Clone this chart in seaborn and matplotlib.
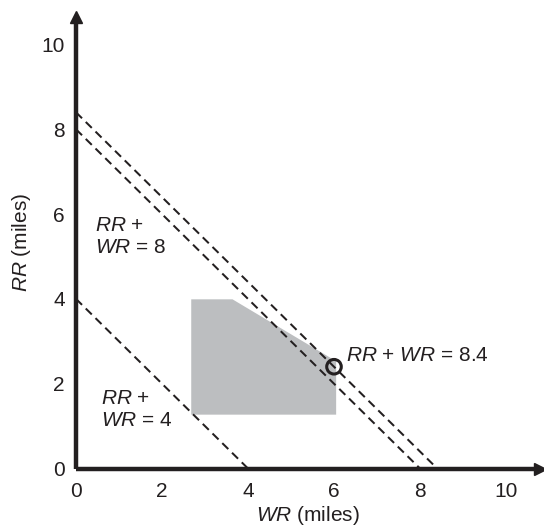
import numpy as np
import pandas as pd
import matplotlib
matplotlib.use("Agg")
import matplotlib.pyplot as plt
import seaborn as sns

sns.set_theme(style="white")
plt.rcParams["font.family"] = ["Liberation Sans", "DejaVu Sans"]
plt.rcParams["mathtext.fontset"] = "custom"
plt.rcParams["mathtext.rm"] = "Liberation Sans"
plt.rcParams["mathtext.it"] = "Liberation Sans:italic"

INK = "#231f20"

# Budget lines RR + WR = total
totals = [4, 8, 8.4]

# Feasible region (WR, RR)
region_wr = [2.68, 2.68, 3.64, 6.05, 6.05]
region_rr = [1.27, 3.99, 3.99, 2.53, 1.27]

# Optimum point
opt_wr = [6.0]
opt_rr = [2.4]

ticks = [0, 2, 4, 6, 8, 10]

W, H = 544, 527
x0, y0 = 76, 468.5          # axes origin in pixels
xmax, ymax = 10.8, 10.65
sx, sy = 43.0, 42.4         # pixels per unit

fig = plt.figure(figsize=(W / 100, H / 100), dpi=100)
ax = fig.add_axes([x0 / W, (H - y0) / H, xmax * sx / W, ymax * sy / H])

ax.fill(region_wr, region_rr, color="#bcbec0", lw=0, zorder=1)

for t in totals:
    df = pd.DataFrame({"WR": [0, t], "RR": [t, 0]})
    sns.lineplot(data=df, x="WR", y="RR", ax=ax, color=INK, lw=1.45,
                 linestyle=(0, (4.2, 2.6)), zorder=2)

sns.scatterplot(x=opt_wr, y=opt_rr, ax=ax, s=110, facecolor="none",
                edgecolor=INK, linewidth=2.2, zorder=4)

ax.set_xlim(0, xmax)
ax.set_ylim(0, ymax)
ax.set_xticks(ticks)
ax.set_yticks(ticks)
ax.set_xticklabels([str(t) for t in ticks])
ax.set_yticklabels([str(t) for t in ticks])
ax.tick_params(axis="both", length=0, labelsize=15, colors=INK)
ax.tick_params(axis="x", pad=10)
ax.tick_params(axis="y", pad=8)

for side in ["top", "right"]:
    ax.spines[side].set_visible(False)
for side in ["left", "bottom"]:
    ax.spines[side].set_linewidth(3.2)
    ax.spines[side].set_color(INK)
    ax.spines[side].set_capstyle("butt")

# Arrow heads at the axis ends
ax.plot(1, 0, marker=">", ms=9, color=INK, transform=ax.transAxes, clip_on=False)
ax.plot(0, 1, marker="^", ms=9, color=INK, transform=ax.transAxes, clip_on=False)

ax.set_xlabel(r"$\mathit{WR}$ (miles)", fontsize=15, color=INK, labelpad=2)
ax.set_ylabel(r"$\mathit{RR}$ (miles)", fontsize=15, color=INK, labelpad=6)

tk = dict(fontsize=15, color=INK, va="center", ha="left", linespacing=1.2)
ax.text(0.45, 5.48, "$\\mathit{RR}$ +\n$\\mathit{WR}$ = 8", **tk)
ax.text(0.57, 1.40, "$\\mathit{RR}$ +\n$\\mathit{WR}$ = 4", **tk)
ax.text(6.28, 2.66, "$\\mathit{RR}$ + $\\mathit{WR}$ = 8.4", **tk)

fig.savefig("out.png", dpi=100)
